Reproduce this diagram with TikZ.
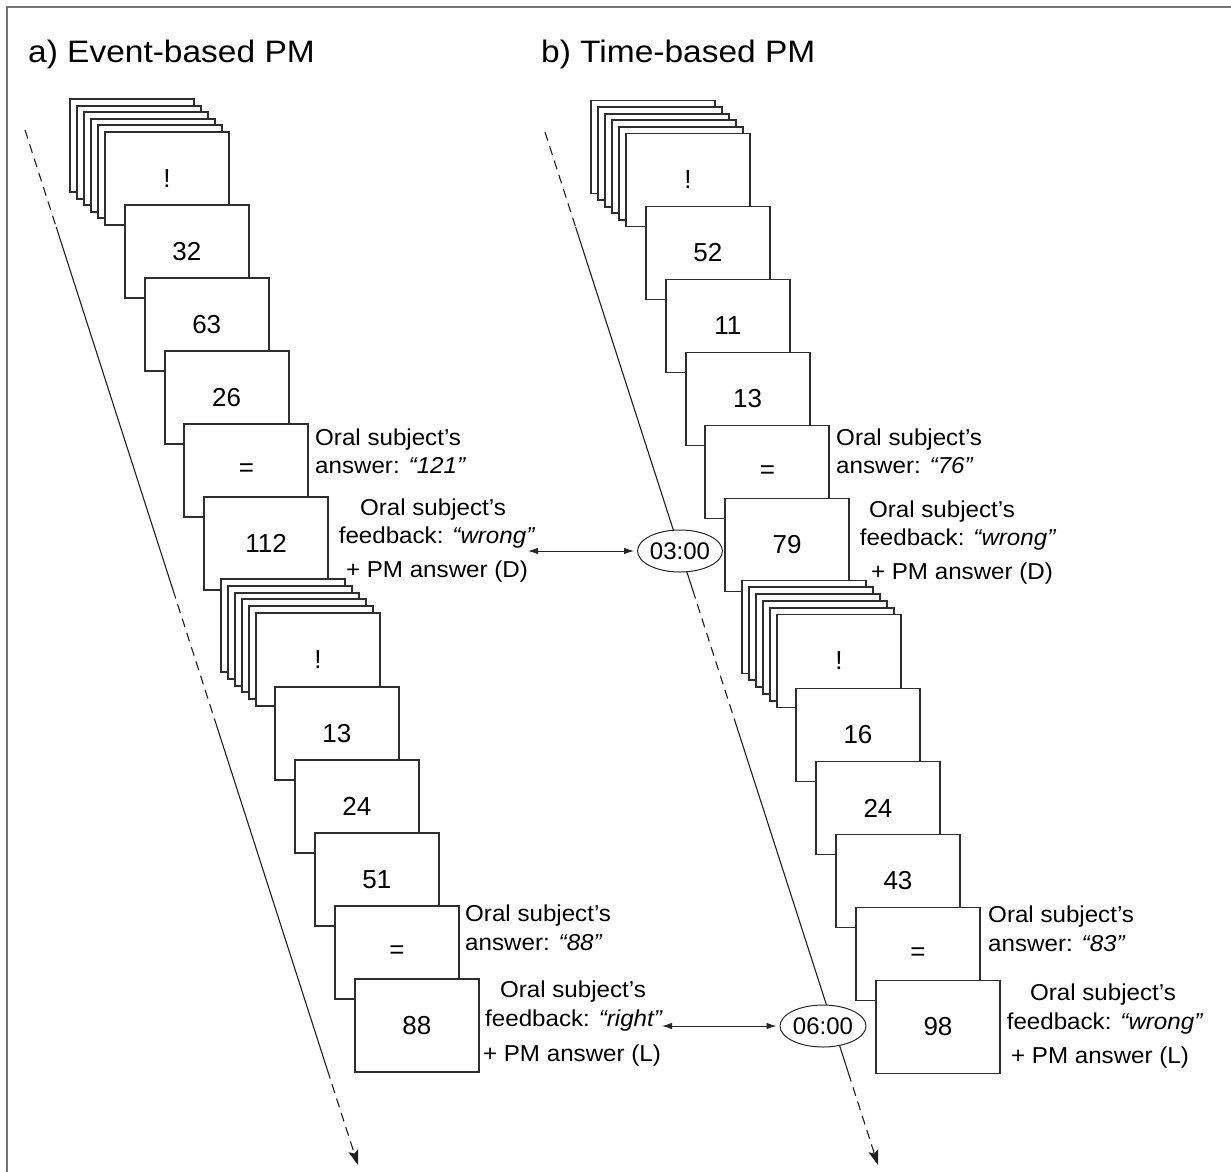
\documentclass[tikz,border=0pt]{standalone}
\usepackage{fontspec}
\setmainfont[FakeStretch=1.05]{Liberation Sans}
\newfontfamily\titlefont[FakeStretch=1.08]{Liberation Sans}
\newfontfamily\cardfont{Liberation Sans}
\usetikzlibrary{arrows.meta,shapes.geometric}
\newcommand\txtsize{\fontsize{23}{27}\selectfont}
\newcommand\pmcard[4]{\node[card] (#1) at (#2,#3) {#4};}
\begin{document}
\begin{tikzpicture}[x=1pt,y=-1pt,
  card/.style={draw=black!82,line width=1.9pt,fill=white,minimum width=124pt,minimum height=93pt,inner sep=0pt,anchor=north west,font=\cardfont\fontsize{26}{30}\selectfont},
  lbl/.style={font=\txtsize,inner sep=0pt},
  ttl/.style={font=\titlefont\fontsize{31}{36}\selectfont,inner sep=0pt,anchor=base west},
  clock/.style={ellipse,draw=black!85,line width=1pt,fill=white,inner sep=0pt,minimum height=42pt,font=\cardfont\fontsize{24}{28}\selectfont},
  tl/.style={line width=1.1pt,black!88},
  tldash/.style={tl,dash pattern=on 9pt off 6pt},
  tlend/.style={tldash,-{Stealth[length=15pt,width=10pt,inset=3pt]}},
  link/.style={line width=0.9pt,black!85,{Latex[length=10pt,width=6.5pt]}-{Latex[length=10pt,width=6.5pt]},shorten >=3pt}
]
\useasboundingbox (0,0) rectangle (1231,1172);
\draw[black!55,line width=1.6pt] (1231,7) -- (7,7) -- (7,1172);

% titles
\node[ttl] (titleA) at (28,63) {a) Event-based PM};
\node[ttl] (titleB) at (541,63) {b) Time-based PM};

% timelines
\coordinate (La) at (25,130);
\coordinate (Lb) at (56.2,227);
\coordinate (Lc) at (173,590);
\coordinate (Ld) at (214.8,720);
\coordinate (Le) at (327.4,1070);
\coordinate (Lf) at (358,1165);
\draw[tldash] (La) -- (Lb);
\draw[tl] (Lb) -- (Lc);
\draw[tldash] (Lc) -- (Ld);
\draw[tl] (Ld) -- (Le);
\draw[tlend] (Le) -- (Lf);

\coordinate (Ra) at (545,132);
\coordinate (Rb) at (575.6,227);
\coordinate (Rc) at (692.7,590);
\coordinate (Rd) at (734.6,720);
\coordinate (Re) at (848.4,1073);
\coordinate (Rf) at (878,1165);
\draw[tldash] (Ra) -- (Rb);
\draw[tl] (Rb) -- (Rc);
\draw[tldash] (Rc) -- (Rd);
\draw[tl] (Rd) -- (Re);
\draw[tlend] (Re) -- (Rf);

% left column, block 1
\pmcard{aA1}{69}{98}{}
\pmcard{aA2}{76}{104.6}{}
\pmcard{aA3}{83}{111.2}{}
\pmcard{aA4}{90}{117.8}{}
\pmcard{aA5}{97}{124.4}{}
\pmcard{aA6}{104}{131}{!}
\pmcard{aB1}{124}{204}{32}
\pmcard{aB2}{143.8}{277}{63}
\pmcard{aB3}{163.6}{350}{26}
\pmcard{aB4}{183.4}{423}{=}
\pmcard{aB5}{203.2}{496}{112}
% left column, block 2
\pmcard{aC1}{220}{578}{}
\pmcard{aC2}{227}{584.8}{}
\pmcard{aC3}{234}{591.6}{}
\pmcard{aC4}{241}{598.4}{}
\pmcard{aC5}{248}{605.2}{}
\pmcard{aC6}{255}{612}{!}
\pmcard{aD1}{274}{686}{13}
\pmcard{aD2}{294}{759}{24}
\pmcard{aD3}{314}{832}{51}
\pmcard{aD4}{334}{905}{=}
\pmcard{aD5}{354}{978}{88}

% right column, block 1
\pmcard{bA1}{590}{99.5}{}
\pmcard{bA2}{597}{106.1}{}
\pmcard{bA3}{604}{112.7}{}
\pmcard{bA4}{611}{119.3}{}
\pmcard{bA5}{618}{125.9}{}
\pmcard{bA6}{625}{132.5}{!}
\pmcard{bB1}{645}{205.5}{52}
\pmcard{bB2}{664.8}{278.5}{11}
\pmcard{bB3}{684.6}{351.5}{13}
\pmcard{bB4}{704.4}{424.5}{=}
\pmcard{bB5}{724.2}{497.5}{79}
% right column, block 2
\pmcard{bC1}{741}{579.5}{}
\pmcard{bC2}{748}{586.3}{}
\pmcard{bC3}{755}{593.1}{}
\pmcard{bC4}{762}{599.9}{}
\pmcard{bC5}{769}{606.7}{}
\pmcard{bC6}{776}{613.5}{!}
\pmcard{bD1}{795}{687.5}{16}
\pmcard{bD2}{815}{760.5}{24}
\pmcard{bD3}{835}{833.5}{43}
\pmcard{bD4}{855}{906.5}{=}
\pmcard{bD5}{875}{979.5}{98}

% clocks
\node[clock,minimum width=79pt] (t1) at (680,551) {03:00};
\node[clock,minimum width=86pt] (t2) at (823,1026) {06:00};

% left annotations
\node[lbl,anchor=base west] (aAns1a) at (315,445) {Oral subject’s};
\node[lbl,anchor=base west] (aAns1b) at (315,473) {answer: \textit{“121”}};
\node[lbl,anchor=base] (aFb1a) at (433,515) {Oral subject’s};
\node[lbl,anchor=base] (aFb1b) at (437,543) {feedback: \textit{“wrong”}};
\node[lbl,anchor=base] (aFb1c) at (437,577) {+ PM answer (D)};

\node[lbl,anchor=base west] (aAns2a) at (465,921) {Oral subject’s};
\node[lbl,anchor=base west] (aAns2b) at (465,950) {answer: \textit{“88”}};
\node[lbl,anchor=base] (aFb2a) at (573,997) {Oral subject’s};
\node[lbl,anchor=base] (aFb2b) at (574,1026) {feedback: \textit{“right”}};
\node[lbl,anchor=base] (aFb2c) at (572,1061) {+ PM answer (L)};

% right annotations
\node[lbl,anchor=base west] (bAns1a) at (836,445) {Oral subject’s};
\node[lbl,anchor=base west] (bAns1b) at (836,473) {answer: \textit{“76”}};
\node[lbl,anchor=base] (bFb1a) at (942,517) {Oral subject’s};
\node[lbl,anchor=base] (bFb1b) at (958,545) {feedback: \textit{“wrong”}};
\node[lbl,anchor=base] (bFb1c) at (962,579) {+ PM answer (D)};

\node[lbl,anchor=base west] (bAns2a) at (988,922) {Oral subject’s};
\node[lbl,anchor=base west] (bAns2b) at (988,951) {answer: \textit{“83”}};
\node[lbl,anchor=base] (bFb2a) at (1103,1000) {Oral subject’s};
\node[lbl,anchor=base] (bFb2b) at (1105,1029) {feedback: \textit{“wrong”}};
\node[lbl,anchor=base] (bFb2c) at (1100,1063) {+ PM answer (L)};

% links
\coordinate (link1) at (528,551);
\coordinate (link2) at (662,1026);
\draw[link] (link1) -- (t1.west);
\draw[link] (link2) -- (t2.west);
\end{tikzpicture}
\end{document}
